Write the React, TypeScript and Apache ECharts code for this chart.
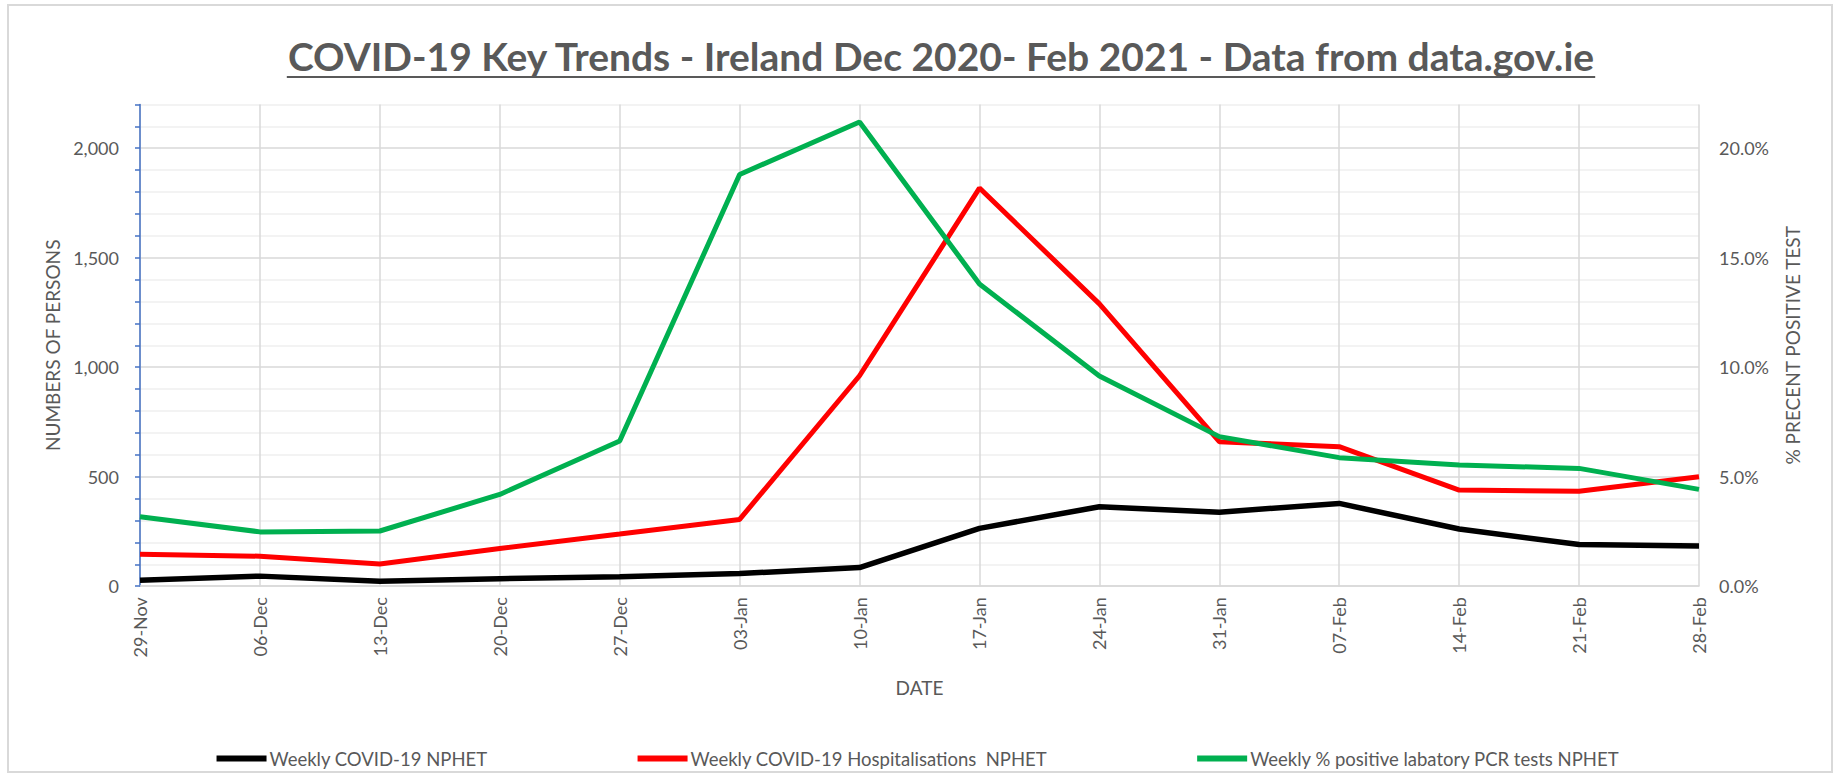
import React, { useEffect, useRef } from 'react';
import * as echarts from 'echarts';

const dates = ['29-Nov', '06-Dec', '13-Dec', '20-Dec', '27-Dec', '03-Jan', '10-Jan', '17-Jan', '24-Jan', '31-Jan', '07-Feb', '14-Feb', '21-Feb', '28-Feb'];
const weeklyCases = [27, 46, 23, 34, 43, 58, 85, 264, 363, 338, 378, 261, 190, 184];
const weeklyHospitalisations = [146, 137, 101, 172, 238, 305, 961, 1818, 1289, 660, 637, 439, 434, 500];
const weeklyPositivityPct = [3.17, 2.48, 2.52, 4.19, 6.63, 18.8, 21.2, 13.8, 9.6, 6.83, 5.87, 5.53, 5.38, 4.42];

const seriesNames = [
  'Weekly COVID-19 NPHET',
  'Weekly COVID-19 Hospitalisations  NPHET',
  'Weekly % positive labatory PCR tests NPHET',
];
const seriesColors = ['#000000', '#ff0000', '#00b050'];

const TITLE = 'COVID-19 Key Trends - Ireland Dec 2020- Feb 2021 - Data from data.gov.ie';
const FONT = 'Lato, "Open Sans", "Noto Sans", sans-serif';
const TEXT_COLOR = '#595959';

function measure(text: string, font: string): number {
  const c = document.createElement('canvas');
  const ctx = c.getContext('2d');
  if (!ctx) return text.length * 18;
  ctx.font = font;
  return ctx.measureText(text).width;
}

export default function App() {
  const ref = useRef<HTMLDivElement>(null);

  useEffect(() => {
    if (!ref.current) return;
    const chart = echarts.init(ref.current, undefined, { renderer: 'svg' });
    const titleFont = `bold 39px ${FONT}`;
    const titleW = measure(TITLE, titleFont);
    const titleX = 941;

    chart.setOption({
      animation: false,
      backgroundColor: '#ffffff',
      textStyle: { fontFamily: FONT },
      grid: { left: 140, right: 137, top: 104.4, bottom: 195.8, containLabel: false },
      graphic: [
        {
          type: 'rect',
          shape: { x: 8, y: 5, width: 1824, height: 767 },
          style: { fill: 'none', stroke: '#d9d9d9', lineWidth: 2 },
          silent: true,
        },
        {
          type: 'text',
          x: titleX,
          y: 56,
          style: {
            text: TITLE,
            font: titleFont,
            fill: TEXT_COLOR,
            textAlign: 'center',
            textVerticalAlign: 'middle',
          },
        },
        {
          type: 'line',
          shape: { x1: titleX - titleW / 2, y1: 77, x2: titleX + titleW / 2, y2: 77 },
          style: { stroke: TEXT_COLOR, lineWidth: 2 },
        },
      ],
      legend: {
        data: seriesNames,
        left: 'center',
        top: 744,
        icon: 'rect',
        itemWidth: 50,
        itemHeight: 6,
        itemGap: 150,
        textStyle: { fontSize: 18.5, color: TEXT_COLOR, fontFamily: FONT, padding: [0, 0, 0, -2] },
      },
      xAxis: {
        type: 'category',
        data: dates,
        boundaryGap: false,
        axisLine: { show: true, lineStyle: { color: '#d9d9d9', width: 1.5 } },
        axisTick: { show: false },
        axisLabel: { rotate: 90, margin: 11, fontSize: 18, color: TEXT_COLOR, fontFamily: FONT },
        splitLine: { show: true, lineStyle: { color: '#d9d9d9', width: 1.5 } },
        name: 'DATE',
        nameLocation: 'middle',
        nameGap: 92,
        nameTextStyle: { fontSize: 19, color: TEXT_COLOR, fontFamily: FONT },
      },
      yAxis: [
        {
          type: 'value',
          position: 'left',
          min: 0,
          max: 2200,
          interval: 100,
          axisLine: { show: true, lineStyle: { color: '#4472c4', width: 1.5 } },
          axisTick: { show: true, length: 5, lineStyle: { color: '#4472c4', width: 1.5 } },
          axisLabel: {
            formatter: (v: number) => (v % 500 === 0 ? v.toLocaleString('en-US') : ''),
            margin: 21,
            fontSize: 18,
            color: TEXT_COLOR,
            fontFamily: FONT,
          },
          splitLine: {
            show: true,
            lineStyle: { color: ['#d9d9d9', '#efefef', '#efefef', '#efefef', '#efefef'], width: 1.5 },
          },
          name: 'NUMBERS OF PERSONS',
          nameLocation: 'middle',
          nameRotate: 90,
          nameGap: 78,
          nameTextStyle: { fontSize: 19, color: TEXT_COLOR, fontFamily: FONT },
        },
        {
          type: 'value',
          position: 'right',
          min: 0,
          max: 22,
          interval: 1,
          axisLine: { show: false },
          axisTick: { show: false },
          axisLabel: {
            formatter: (v: number) => (Math.round(v) % 5 === 0 ? Math.round(v).toFixed(1) + '%' : ''),
            margin: 20,
            fontSize: 18,
            color: TEXT_COLOR,
            fontFamily: FONT,
          },
          splitLine: { show: false },
          name: '% PRECENT POSITIVE TEST',
          nameLocation: 'middle',
          nameRotate: 90,
          nameGap: 84,
          nameTextStyle: { fontSize: 19, color: TEXT_COLOR, fontFamily: FONT },
        },
      ],
      series: [
        {
          name: seriesNames[0],
          type: 'line',
          yAxisIndex: 0,
          data: weeklyCases,
          symbol: 'none',
          color: seriesColors[0],
          lineStyle: { width: 5.5, color: seriesColors[0] },
        },
        {
          name: seriesNames[1],
          type: 'line',
          yAxisIndex: 0,
          data: weeklyHospitalisations,
          symbol: 'none',
          color: seriesColors[1],
          lineStyle: { width: 5, color: seriesColors[1] },
        },
        {
          name: seriesNames[2],
          type: 'line',
          yAxisIndex: 1,
          data: weeklyPositivityPct,
          symbol: 'none',
          color: seriesColors[2],
          lineStyle: { width: 5, color: seriesColors[2] },
        },
      ],
    });

    return () => chart.dispose();
  }, []);

  return (
    <div
      ref={ref}
      style={{ position: 'absolute', left: 0, top: 0, width: 1836, height: 782, background: '#fff' }}
    />
  );
}
